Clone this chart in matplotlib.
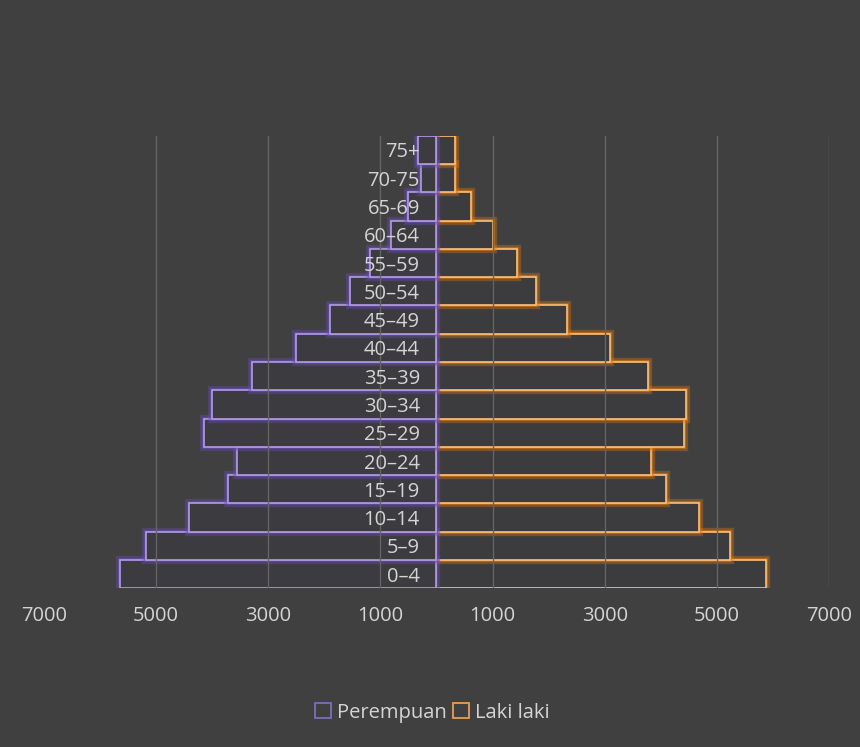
import numpy as np
import matplotlib
matplotlib.use('Agg')
import matplotlib.pyplot as plt
import matplotlib.patheffects as pe
from matplotlib.patches import Patch

# data (bottom -> top)
umur = ['0–4', '5–9', '10–14', '15–19', '20–24', '25–29', '30–34', '35–39',
        '40–44', '45–49', '50–54', '55–59', '60–64', '65-69', '70-75', '75+']
perempuan = [5640, 5180, 4420, 3710, 3560, 4140, 4000, 3290,
             2500, 1890, 1540, 1185, 810, 510, 285, 325]
laki = [5870, 5230, 4685, 4085, 3825, 4410, 4440, 3765,
        3095, 2330, 1770, 1440, 1010, 615, 330, 330]
xticks = [-7000, -5000, -3000, -1000, 1000, 3000, 5000, 7000]

bg = '#404040'
ungu = '#b49ce6'
ungu_glow = '#6a4fb8'
oranye = '#ffbf78'
oranye_glow = '#e07a10'
teks = '#d4d4d4'

plt.rcParams['font.family'] = ['Open Sans', 'DejaVu Sans']

fig = plt.figure(figsize=(8.6, 7.47), dpi=100, facecolor=bg)
ax = fig.add_axes([0.0509, 0.2124, 0.9133, 0.6059], facecolor=bg)

y = np.arange(len(umur))
p = ax.barh(y, -np.array(perempuan), height=1.0, color='#3c3c40',
            edgecolor=ungu, linewidth=1.2, zorder=1.2)
l = ax.barh(y, laki, height=1.0, color='#3c3c3e',
            edgecolor=oranye, linewidth=1.2, zorder=1.1)
for b in p:
    b.set_path_effects([pe.Stroke(linewidth=6, foreground=ungu_glow, alpha=0.35),
                        pe.Stroke(linewidth=3, foreground=ungu_glow, alpha=0.5),
                        pe.Normal()])
for b in l:
    b.set_path_effects([pe.Stroke(linewidth=6, foreground=oranye_glow, alpha=0.35),
                        pe.Stroke(linewidth=3, foreground=oranye_glow, alpha=0.55),
                        pe.Normal()])

# grid
for t in xticks[1:]:
    ax.axvline(t, color='#646464', linewidth=1, zorder=1.3)

ax.set_xlim(-7000, 7000)
ax.set_ylim(-0.5, len(umur) - 0.5)
ax.set_xticks(xticks, labels=[str(abs(t)) for t in xticks])
ax.set_yticks(y, labels=umur)
ax.spines['left'].set_position(('data', 0))
for s in ax.spines.values():
    s.set_visible(False)
ax.tick_params(axis='y', length=0, pad=12, labelsize=14.5, labelcolor=teks)
ax.tick_params(axis='x', length=0, pad=13, labelsize=14.5, labelcolor=teks)
for lab in ax.get_yticklabels():
    lab.set_zorder(5)

h = [Patch(facecolor='none', edgecolor='#7d6fb8', linewidth=1.3, label='Perempuan'),
     Patch(facecolor='none', edgecolor='#e8a050', linewidth=1.3, label='Laki laki')]
leg = fig.legend(handles=h, loc='center', bbox_to_anchor=(0.503, 0.046), ncol=2,
                 frameon=False, fontsize=14.5, labelcolor=teks,
                 handlelength=0.8, handleheight=0.8, handletextpad=0.3, columnspacing=0.3)

fig.savefig('out.png', dpi=100, facecolor=bg)
